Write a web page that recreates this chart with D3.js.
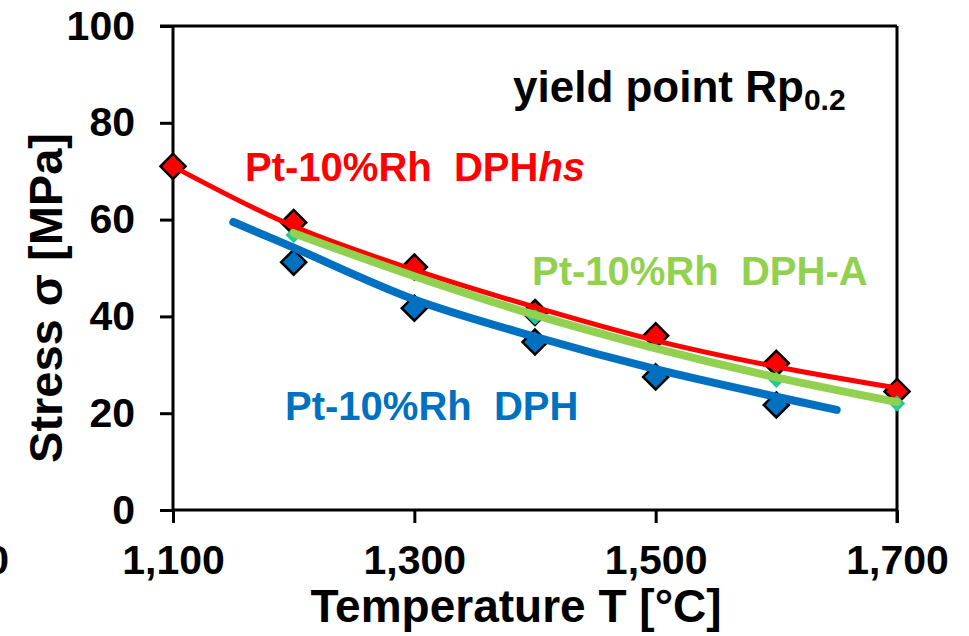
<!DOCTYPE html>
<html><head><meta charset="utf-8">
<script src="https://cdn.jsdelivr.net/npm/d3@7"></script>
<style>
html,body{margin:0;padding:0;background:#fff;}
svg{display:block;font-family:"Liberation Sans",Arial,sans-serif;font-weight:bold;}
</style></head>
<body>
<svg id="chart" width="969" height="636"></svg>
<script>
// ---- data ----
const temps = [1100, 1200, 1300, 1400, 1500, 1600, 1700];
const xTicks = [1100, 1300, 1500, 1700];
const yTicks = [0, 20, 40, 60, 80, 100];

const hsTemps = [1100, 1200, 1300, 1400, 1500, 1600, 1700];
const hsValues = [71, 59.4, 50.2, 40.8, 36.0, 30.3, 24.5];

const dphTemps = [1200, 1300, 1400, 1500, 1600];
const dphValues = [51.2, 41.7, 34.7, 27.5, 21.7];

const dphATemps = [1200, 1400, 1600, 1700];
const dphAValues = [56.8, 39.9, 26.9, 22.0];

// trend lines
const hsFitTemps = [1100, 1200, 1300, 1400, 1500, 1600, 1700];
const hsFitValues = [71, 58.6, 49.6, 41.9, 35.0, 29.6, 25.2];
const dphFitTemps = [1150, 1200, 1300, 1400, 1500, 1600, 1650];
const dphFitValues = [59.5, 54.2, 43.5, 35.8, 29.1, 23.4, 20.7];
const dphAFitTemps = [1200, 1300, 1400, 1500, 1600, 1700];
const dphAFitValues = [57.2, 48.3, 40.3, 33.4, 27.4, 22.3];

const colors = {hs: "#ff0000", dph: "#0070c0", dphA: "#92d050", dphAMarker: "#1ccc9a"};

// ---- layout ----
const svg = d3.select("#chart");
const x = d3.scaleLinear().domain([1100, 1700]).range([173, 897]);
const y = d3.scaleLinear().domain([0, 100]).range([510, 26]);

// frame (top + right)
svg.append("line").attr("x1", 160).attr("x2", x(1700)).attr("y1", y(100)).attr("y2", y(100))
  .attr("stroke", "#000").attr("stroke-width", 3);
svg.append("line").attr("x1", x(1700)).attr("x2", x(1700)).attr("y1", y(100)).attr("y2", y(0) + 13)
  .attr("stroke", "#000").attr("stroke-width", 3);

// axes
const yAxis = svg.append("g").attr("transform", `translate(${x(1100)},0)`)
  .call(d3.axisLeft(y).tickValues(yTicks).tickSize(13).tickPadding(25).tickFormat(d3.format("d")));
const xAxis = svg.append("g").attr("transform", `translate(0,${y(0)})`)
  .call(d3.axisBottom(x).tickValues(xTicks).tickSize(13).tickPadding(22).tickFormat(d3.format(",")));
[yAxis, xAxis].forEach(g => {
  g.select(".domain").attr("stroke", "#000").attr("stroke-width", 3);
  g.selectAll(".tick line").attr("stroke", "#000").attr("stroke-width", 3);
  g.selectAll(".tick text").attr("fill", "#000").style("font-size", "41px")
    .style("font-family", "'Liberation Sans', Arial, sans-serif").style("font-weight", "bold");
});
yAxis.select(".domain").attr("d", `M0,${y(100)}V${y(0)}`);
xAxis.select(".domain").attr("d", `M${x(1100)},0H${x(1700)}`);

// clipped label from neighbouring panel
svg.append("text").attr("x", 9).attr("y", 574).attr("text-anchor", "end")
  .style("font-size", "41px").text("0");

// axis titles
svg.append("text").attr("x", 516).attr("y", 622).attr("text-anchor", "middle")
  .style("font-size", "46px").text("Temperature T [°C]");
svg.append("text").attr("transform", "translate(62,298) rotate(-90)").attr("text-anchor", "middle")
  .style("font-size", "47px").text("Stress σ [MPa]");

// markers
const diamond = d3.symbol().type(d3.symbolDiamond2);
function diamonds(ts, vs, fill, size, stroke) {
  svg.append("g").selectAll("path").data(ts.map((t, i) => [t, vs[i]])).join("path")
    .attr("d", diamond.size(size)())
    .attr("transform", d => `translate(${x(d[0])},${y(d[1])})`)
    .attr("fill", fill)
    .attr("stroke", stroke || "none").attr("stroke-width", stroke ? 2.5 : 0)
    .attr("stroke-linejoin", "miter");
}
diamonds(hsTemps, hsValues, colors.hs, 400, "#000");
diamonds(dphTemps, dphValues, colors.dph, 400, "#000");
diamonds(dphATemps, dphAValues, colors.dphAMarker, 170, null);

// trend lines
const line = d3.line().x(d => x(d[0])).y(d => y(d[1])).curve(d3.curveCatmullRom);
function trend(ts, vs, color, w) {
  svg.append("path").datum(ts.map((t, i) => [t, vs[i]])).attr("d", line)
    .attr("fill", "none").attr("stroke", color).attr("stroke-width", w)
    .attr("stroke-linecap", "round").attr("stroke-linejoin", "round");
}
trend(dphFitTemps, dphFitValues, colors.dph, 8);
trend(hsFitTemps, hsFitValues, colors.hs, 5);
trend(dphAFitTemps, dphAFitValues, colors.dphA, 8);

// labels
const t1 = svg.append("text").attr("x", 245).attr("y", 181).attr("fill", colors.hs).style("font-size", "40px");
t1.append("tspan").text("Pt-10%Rh\u00a0\u00a0DPH");
t1.append("tspan").style("font-style", "italic").text("hs");
svg.append("text").attr("x", 532).attr("y", 285).attr("fill", colors.dphA).style("font-size", "40px")
  .text("Pt-10%Rh\u00a0\u00a0DPH-A");
svg.append("text").attr("x", 285).attr("y", 420).attr("fill", colors.dph).style("font-size", "40px")
  .text("Pt-10%Rh\u00a0\u00a0DPH");
const t2 = svg.append("text").attr("x", 513).attr("y", 102).attr("fill", "#000").style("font-size", "44px");
t2.append("tspan").text("yield point Rp");
t2.append("tspan").attr("dy", 8).style("font-size", "30px").text("0.2");
</script>
</body></html>
